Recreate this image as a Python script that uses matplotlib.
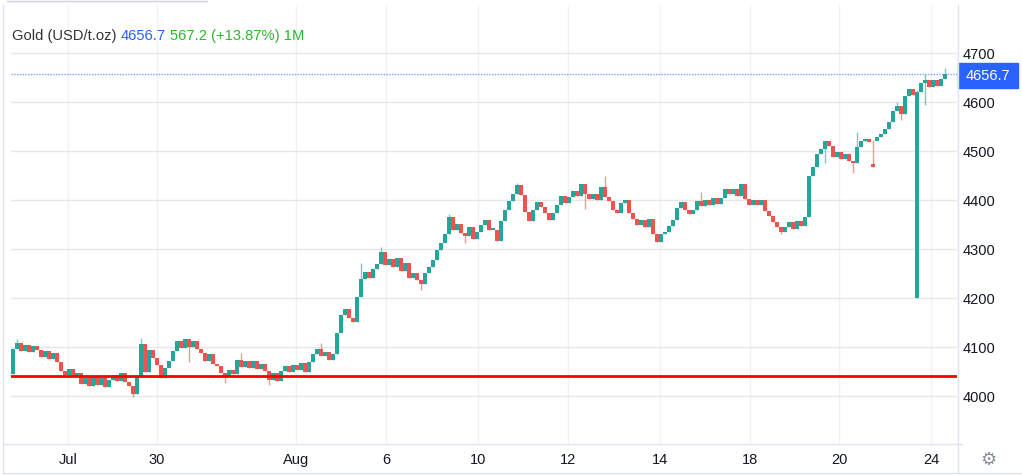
import matplotlib
matplotlib.use("Agg")
import matplotlib.pyplot as plt
from matplotlib.lines import Line2D
from matplotlib.patches import Rectangle
import numpy as np

plt.rcParams['font.family'] = ['Liberation Sans', 'DejaVu Sans']

# closing prices, one per candle
closes = [
    4096, 4108, 4092, 4104, 4090, 4102, 4094, 4080, 4092, 4076,
    4088, 4070, 4052, 4042, 4056, 4040, 4046, 4024, 4036, 4020,
    4040, 4022, 4036, 4018, 4032, 4042, 4030, 4046, 4028, 4020,
    4004, 4040, 4106, 4050, 4094, 4078, 4064, 4036, 4058, 4072,
    4092, 4112, 4098, 4116, 4100, 4112, 4096, 4088, 4072, 4086,
    4066, 4062, 4048, 4038, 4054, 4044, 4074, 4060, 4072, 4058,
    4072, 4056, 4066, 4052, 4032, 4046, 4030, 4052, 4062, 4050,
    4064, 4054, 4068, 4050, 4070, 4086, 4096, 4082, 4090, 4074,
    4086, 4128, 4165, 4178, 4160, 4152, 4202, 4240, 4254, 4242,
    4260, 4270, 4294, 4268, 4280, 4264, 4282, 4256, 4272, 4242,
    4252, 4236, 4228, 4252, 4264, 4278, 4298, 4312, 4330, 4365,
    4340, 4352, 4332, 4326, 4346, 4320, 4336, 4350, 4360, 4340,
    4340, 4316, 4357, 4380, 4398, 4412, 4431, 4410, 4375, 4358,
    4380, 4396, 4386, 4374, 4360, 4374, 4390, 4408, 4394, 4406,
    4418, 4408, 4434, 4412, 4402, 4412, 4400, 4426, 4406, 4398,
    4380, 4374, 4394, 4400, 4374, 4362, 4350, 4360, 4346, 4362,
    4330, 4314, 4330, 4336, 4348, 4360, 4384, 4396, 4380, 4372,
    4380, 4398, 4388, 4400, 4390, 4404, 4392, 4404, 4422, 4412,
    4422, 4408, 4434, 4402, 4390, 4400, 4390, 4400, 4378, 4368,
    4356, 4346, 4334, 4346, 4356, 4342, 4358, 4348, 4366, 4450,
    4468, 4494, 4504, 4520, 4510, 4488, 4498, 4484, 4494, 4480,
    4475, 4508, 4520, 4524, 4518, 4468, 4530, 4536, 4546, 4560,
    4582, 4592, 4576, 4612, 4628, 4614, 4620, 4640, 4646, 4632,
    4646, 4634, 4648, 4656.7,
]

# opens are the previous close except where there is a gap
open_fix = {0: 4045, 215: 4474, 216: 4520, 226: 4200}
# visible wicks
high_fix = {1: 4116, 32: 4118, 57: 4088, 77: 4108, 87: 4271, 92: 4304,
            109: 4372, 126: 4436, 148: 4449, 172: 4416, 211: 4539,
            215: 4522, 221: 4600, 226: 4625, 228: 4657, 233: 4669}
low_fix = {30: 3998, 44: 4069, 53: 4027, 64: 4022, 102: 4216, 113: 4312,
           143: 4381, 192: 4330, 203: 4475, 210: 4455, 222: 4563, 228: 4594}

last_price = 4656.7
change = 567.2
change_pct = 13.87
red_level = 4041
price_ticks = [4000, 4100, 4200, 4300, 4400, 4500, 4600, 4700]
date_labels = ['Jul', '30', 'Aug', '6', '10', '12', '14', '18', '20', '24']
date_pos = [13.75, 36.0, 70.75, 93.25, 116.25, 138.75, 161.75, 184.25, 206.5, 229.5]

UP = '#26a69a'
DOWN = '#ef5350'
W, H = 1022, 475

fig = plt.figure(figsize=(W / 100, H / 100), dpi=100)

def fx(px):
    return px / W

def fy(py):
    return 1 - py / H

ax = fig.add_axes([fx(11), fy(444), (957 - 11) / W, (444 - 5) / H])

n = len(closes)
x = np.arange(n)
c = np.array(closes, dtype=float)
o = np.array([open_fix.get(i, closes[i - 1] if i else closes[0]) for i in range(n)], dtype=float)
hi = np.array([high_fix.get(i, max(o[i], c[i])) for i in range(n)], dtype=float)
lo = np.array([low_fix.get(i, min(o[i], c[i])) for i in range(n)], dtype=float)
cols = np.where(c >= o, UP, DOWN)

ax.vlines(x, lo, hi, colors=cols, linewidth=1, alpha=0.6, zorder=3)
ax.bar(x, np.maximum(np.abs(c - o), 2.5), bottom=np.minimum(o, c), width=0.85,
       color=cols, linewidth=0, zorder=4)

ax.axhline(red_level, color='#ff0000', lw=2, zorder=5)
ax.axhline(last_price, color='#2962ff', lw=1, ls=(0, (1, 1)), alpha=0.6, zorder=2)

ax.set_xlim(-0.5, 236)
ax.set_ylim(3902, 4798.6)
ax.set_yticks(price_ticks)
ax.set_xticks(date_pos, date_labels)
ax.yaxis.tick_right()
ax.tick_params(axis='y', length=0, pad=4.3, labelsize=10.5, labelcolor='#131722')
ax.tick_params(axis='x', length=0, pad=6.5, labelsize=10.5, labelcolor='#131722')
ax.yaxis.grid(True, color='#e6e7ea', lw=1)
ax.xaxis.grid(True, color='#f0f2f5', lw=1)
ax.set_axisbelow(True)
for s in ax.spines.values():
    s.set_visible(False)

# widget frame
def fline(x0, y0, x1, y1, color='#e0e3eb'):
    fig.add_artist(Line2D([fx(x0), fx(x1)], [fy(y0), fy(y1)], color=color, lw=1))

fline(3, 5, 3, 473)
fline(958, 5, 958, 473)
fline(3, 444, 962, 444)
fline(3, 473, 1022, 473)
fline(7, 1, 207, 1, '#cfd2d8')

# legend line
parts = [('Gold (USD/t.oz)', '#333333'),
         ('%.1f' % last_price, '#2962ff'),
         ('%.1f (+%.2f%%) 1M' % (change, change_pct), '#2db82d')]
renderer = fig.canvas.get_renderer()
xpos = 12
for txt, col in parts:
    t = fig.text(fx(xpos), fy(36), txt, color=col, fontsize=10.6, va='center', ha='left')
    bb = t.get_window_extent(renderer)
    xpos = bb.x1 + 4

# last price tag
fig.add_artist(Rectangle((fx(958), fy(88)), fx(1018) - fx(958), fy(63) - fy(88),
                         transform=fig.transFigure, color='#2962ff'))
fig.text(fx(988), fy(75.5), '%.1f' % last_price, color='white', fontsize=10.5,
         ha='center', va='center')

fig.text(fx(988), fy(460), '\u2699', color='#8a8e97', fontsize=13,
         ha='center', va='center', family='DejaVu Sans')

fig.savefig('out.png', dpi=100)
